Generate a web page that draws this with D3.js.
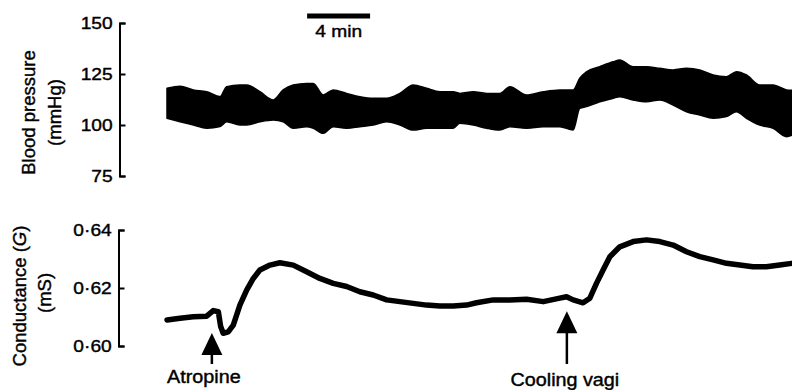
<!DOCTYPE html>
<meta charset="utf-8">
<style>
body { margin: 0; background: #fff; }
svg { display: block; }
text { font-family: "Liberation Sans", Arial, Helvetica, sans-serif; fill: #000; stroke: #000; stroke-width: 0.4px; }
.axis path, .axis line { stroke: #000; stroke-width: 2px; }
.bp { fill: #000; stroke: #000; stroke-width: 1.5px; stroke-linejoin: round; }
.cond { fill: none; stroke: #000; stroke-width: 5.5px; stroke-linejoin: round; stroke-linecap: round; }
</style>
<svg width="792" height="390"></svg>
<script src="https://d3js.org/d3.v7.min.js"></script>
<script>
// time in minutes from start of record
var bpTime = [0, 0.83, 1.67, 2.52, 3.37, 3.79, 4.63, 5.06, 5.9, 6.75, 7.38, 8.02, 8.87, 9.29, 9.92, 10.56, 11.41, 12.25, 13.1, 13.95,
  14.79, 15.64, 16.49, 17.33, 18.18, 18.6, 19.45, 20.3, 21.14, 21.78, 22.84, 23.9, 24.95, 25.8, 26.22, 26.65, 27.49, 28.34, 28.76, 29.61,
  30.46, 31.3, 32.15, 33.0, 33.84, 34.69, 35.54, 36.17, 36.81, 37.65, 38.5, 39.35, 39.7];
// systolic peaks / diastolic troughs (mmHg)
var bpTop = [118.0, 119.0, 117.2, 116.3, 113.9, 118.8, 119.6, 119.6, 116.3, 112.3, 117.2, 119.6, 120.4, 120.4, 114.7, 117.2, 115.5, 113.9, 113.1, 113.1,
  115.5, 119.6, 118.0, 116.3, 116.3, 115.5, 116.3, 115.5, 115.5, 118.8, 114.7, 116.3, 117.2, 117.2, 122.9, 126.1, 128.6, 131.0, 131.9, 128.6,
  128.6, 127.8, 127.0, 127.8, 127.0, 124.5, 123.7, 126.1, 124.5, 119.6, 119.6, 117.2, 117.0];
var bpBottom = [103.3, 101.6, 100.0, 98.4, 99.2, 101.6, 100.0, 100.0, 101.6, 102.5, 101.6, 98.4, 99.2, 98.4, 95.9, 99.2, 98.4, 99.2, 100.0, 101.6,
  100.0, 97.5, 98.4, 98.4, 98.4, 100.8, 100.0, 98.4, 97.5, 99.2, 98.4, 99.2, 99.2, 97.5, 108.2, 109.0, 111.4, 113.1, 113.9, 112.3,
  111.4, 112.3, 109.8, 106.5, 104.9, 103.3, 104.1, 106.5, 103.3, 100.0, 98.4, 94.3, 95.0];

var gTime = [0, 0.83, 1.67, 2.52, 2.94, 3.26, 3.41, 3.57, 3.89, 4.21, 4.63, 5.06, 5.48, 5.9, 6.54, 7.17, 8.02, 8.87, 9.71, 10.56,
  11.41, 12.25, 13.1, 13.95, 14.79, 15.64, 16.49, 17.33, 18.18, 19.03, 19.66, 20.72, 21.78, 22.84, 23.9, 24.95, 25.38, 25.8, 26.43, 26.86,
  27.28, 27.7, 28.13, 28.76, 29.61, 30.46, 31.3, 32.15, 33.0, 33.84, 34.69, 35.54, 36.38, 37.22, 38.07, 38.92, 39.68];
// conductance G (mS)
var gValue = [0.6090, 0.6096, 0.6101, 0.6103, 0.6122, 0.6118, 0.6067, 0.6044, 0.6049, 0.6072, 0.6141, 0.6193, 0.6233, 0.6262, 0.6279, 0.6287, 0.6279, 0.6256, 0.6233, 0.6216,
  0.6205, 0.6187, 0.6176, 0.6159, 0.6153, 0.6147, 0.6141, 0.6138, 0.6138, 0.6141, 0.6149, 0.6159, 0.6159, 0.6161, 0.6153, 0.6165, 0.6170, 0.6159, 0.6149, 0.6165,
  0.6216, 0.6262, 0.6308, 0.6342, 0.6360, 0.6366, 0.6360, 0.6348, 0.6325, 0.6308, 0.6297, 0.6285, 0.6279, 0.6273, 0.6273, 0.6279, 0.6285];

var bpTicks = [75, 100, 125, 150];
var gTicks = [0.60, 0.62, 0.64];

var eventNames = ["Atropine", "Cooling vagi"];
var eventTimes = [2.85, 25.4];
var eventTipValues = [0.6045, 0.6120];
var eventLabelDx = [-8, -2];
var eventLabelY = [383, 386];

var scaleBarStart = 8.9, scaleBarMinutes = 4;

var svg = d3.select("svg");
var stretch = "scale(1.13,1)";

var x = d3.scaleLinear().domain([0, 39.7]).range([167, 792]);
var yBP = d3.scaleLinear().domain([75, 150]).range([176, 23]);
var yG = d3.scaleLinear().domain([0.60, 0.64]).range([346, 230]);

// blood pressure band
var bpData = bpTime.map(function(t, i) { return {t: t, hi: bpTop[i], lo: bpBottom[i]}; });
svg.append("path")
  .datum(bpData)
  .attr("class", "bp")
  .attr("d", d3.area()
    .curve(d3.curveMonotoneX)
    .x(function(d) { return x(d.t); })
    .y0(function(d) { return yBP(d.lo); })
    .y1(function(d) { return yBP(d.hi); }));

// conductance trace
var gData = gTime.map(function(t, i) { return {t: t, v: gValue[i]}; });
svg.append("path")
  .datum(gData)
  .attr("class", "cond")
  .attr("d", d3.line()
    .x(function(d) { return x(d.t); })
    .y(function(d) { return yG(d.v); }));

// axes: ticks point to the right, labels on the left
svg.append("g")
  .attr("class", "axis")
  .attr("transform", "translate(119.5,0)")
  .call(d3.axisLeft(yBP).tickValues(bpTicks).tickSizeInner(-6).tickSizeOuter(-6).tickPadding(6));

svg.append("g")
  .attr("class", "axis")
  .attr("transform", "translate(118.5,0)")
  .call(d3.axisLeft(yG).tickValues(gTicks).tickSizeInner(-6).tickSizeOuter(-6).tickPadding(6)
    .tickFormat(function(d) { return d3.format(".2f")(d).replace(".", "\u00b7"); }));

svg.selectAll(".axis text")
  .attr("transform", stretch)
  .style("font-size", "17px")
  .style("font-family", "'Liberation Sans', Arial, Helvetica, sans-serif")
  .attr("fill", "#000");

// axis titles
function vtitle(xPos, yPos) {
  return svg.append("text")
    .attr("transform", "translate(" + xPos + "," + yPos + ") rotate(-90)")
    .attr("text-anchor", "middle")
    .style("font-size", "18.5px");
}
vtitle(35, 112.5).text("Blood pressure");
vtitle(61, 112.5).text("(mmHg)");
var ct = vtitle(26, 296);
ct.append("tspan").text("Conductance (");
ct.append("tspan").style("font-style", "italic").text("G");
ct.append("tspan").text(")");
vtitle(51, 293).text("(mS)");

// time scale bar
svg.append("line")
  .attr("x1", x(scaleBarStart)).attr("x2", x(scaleBarStart + scaleBarMinutes))
  .attr("y1", 16).attr("y2", 16)
  .attr("stroke", "#000").attr("stroke-width", 5);
svg.append("g")
  .attr("transform", "translate(" + x(scaleBarStart + scaleBarMinutes / 2) + ",36.5) " + stretch)
  .append("text")
  .attr("text-anchor", "middle")
  .style("font-size", "17px")
  .text(scaleBarMinutes + " min");

// event arrows
eventNames.forEach(function(name, i) {
  var ax = x(eventTimes[i]), tip = yG(eventTipValues[i]);
  svg.append("path")
    .attr("d", "M" + ax + "," + tip + "L" + (ax + 10.5) + "," + (tip + 22) + "L" + (ax - 10.5) + "," + (tip + 22) + "Z")
    .attr("fill", "#000");
  svg.append("line")
    .attr("x1", ax).attr("x2", ax)
    .attr("y1", tip + 20).attr("y2", 364)
    .attr("stroke", "#000").attr("stroke-width", 2.5);
  svg.append("g")
    .attr("transform", "translate(" + (ax + eventLabelDx[i]) + "," + eventLabelY[i] + ") " + stretch)
    .append("text")
    .attr("text-anchor", "middle")
    .style("font-size", "17.5px")
    .text(name);
});
</script>
